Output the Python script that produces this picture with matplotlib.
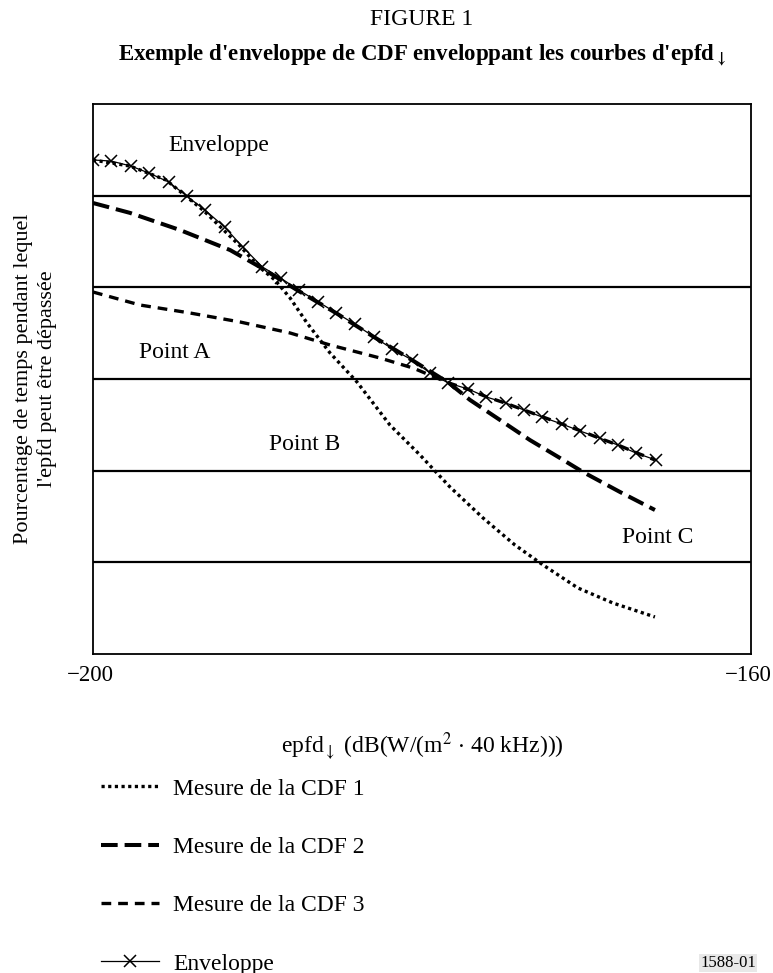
import matplotlib
matplotlib.use("Agg")
import matplotlib.pyplot as plt
from matplotlib.transforms import ScaledTranslation

plt.rcParams['font.family'] = ['Liberation Serif', 'DejaVu Serif']
plt.rcParams['mathtext.fontset'] = 'stix'
plt.rcParams['lines.scale_dashes'] = False

# ---- data (x in dB(W/(m2*40kHz)), y in arbitrary percentage grid units) ----
cdf1_x = [-200.0, -197.75, -195.56, -193.25, -191.06, -189.97, -188.94, -188.02,
          -186.99, -185.59, -183.95, -181.95, -180.12, -178.30, -176.29, -174.35,
          -172.64, -170.52, -168.39, -165.84]
cdf1_y = [5.389, 5.323, 5.171, 4.833, 4.451, 4.233, 4.080, 3.884,
          3.611, 3.284, 2.967, 2.498, 2.171, 1.822, 1.484, 1.189,
          0.971, 0.720, 0.556, 0.404]

cdf2_x = [-200.0, -197.75, -194.71, -191.67, -189.85, -187.60, -185.23, -182.92,
          -180.61, -178.36, -177.08, -175.26, -173.44, -171.61, -170.21, -167.96,
          -165.84]
cdf2_y = [4.920, 4.812, 4.625, 4.407, 4.222, 3.971, 3.720, 3.458,
          3.207, 2.956, 2.771, 2.553, 2.334, 2.138, 1.985, 1.767,
          1.571]

cdf3_x = [-200.0, -197.14, -194.10, -191.06, -188.02, -185.59, -182.55, -180.55,
          -178.36, -177.26, -176.05, -174.95, -173.80, -172.64, -171.49, -170.33,
          -169.24, -168.09, -166.93, -165.84]
cdf3_y = [3.949, 3.807, 3.720, 3.622, 3.502, 3.371, 3.229, 3.120,
          2.956, 2.891, 2.804, 2.738, 2.662, 2.585, 2.509, 2.433,
          2.356, 2.280, 2.193, 2.117]

env_x = [-200.0, -198.9, -197.7, -196.6, -195.4, -194.3, -193.2, -192.0, -190.9,
         -189.7, -188.6, -187.5, -186.3, -185.2, -184.1, -182.9, -181.8, -180.6,
         -179.5, -178.4, -177.2, -176.1, -174.9, -173.8, -172.7, -171.5, -170.4,
         -169.2, -168.1, -167.0, -165.8]
env_y = [5.389, 5.378, 5.323, 5.247, 5.149, 4.996, 4.843, 4.658, 4.440,
         4.222, 4.102, 3.971, 3.840, 3.720, 3.600, 3.458, 3.327, 3.207,
         3.065, 2.956, 2.891, 2.804, 2.738, 2.662, 2.585, 2.509, 2.433,
         2.356, 2.280, 2.193, 2.117]

grid_levels = [1, 2, 3, 4, 5]
x_ticks = [-200, -160]
x_tick_labels = ['\u2212200', '\u2212160']

labels = ['Mesure de la CDF 1', 'Mesure de la CDF 2', 'Mesure de la CDF 3', 'Enveloppe']

# ---- figure ----
W, H = 773, 973
FS = 17
fig = plt.figure(figsize=(W / 100, H / 100), dpi=100)
ax = fig.add_axes([93 / W, 1 - 654 / H, (751 - 93) / W, (654 - 104) / H])
ax.set_xlim(-200, -160)
ax.set_ylim(0, 6)

for g in grid_levels:
    ax.axhline(g, color='black', lw=1.6, zorder=1)

l1, = ax.plot(cdf1_x, cdf1_y, color='black', lw=2.4, dashes=(2.3, 2.5),
              dash_capstyle='butt', zorder=2)
l2, = ax.plot(cdf2_x, cdf2_y, color='black', lw=2.9, dashes=(12, 5),
              dash_capstyle='butt', zorder=2)
l3, = ax.plot(cdf3_x, cdf3_y, color='black', lw=2.4, dashes=(7, 5),
              dash_capstyle='butt', zorder=2)
l4, = ax.plot(env_x, env_y, color='black', lw=0.9, marker='x', ms=9, mew=1.1,
              zorder=3)

for s in ax.spines.values():
    s.set_linewidth(1.3)
ax.set_yticks([])
ax.set_xticks(x_ticks)
ax.set_xticklabels(x_tick_labels, fontsize=16.5)
ax.tick_params(axis='x', length=0, pad=8)
for lbl in ax.get_xticklabels():
    lbl.set_transform(lbl.get_transform() + ScaledTranslation(-0.03, 0, fig.dpi_scale_trans))

ax.set_xlabel(r"epfd$_{\downarrow}$ (dB(W/(m$^{2}$ $\cdot$ 40 kHz)))", fontsize=FS, labelpad=32)
ax.set_ylabel("Pourcentage de temps pendant lequel\nl'epfd peut être dépassée",
              fontsize=16, labelpad=26, linespacing=1.3)

# in-plot labels
ax.text(-195.44, 5.55, 'Enveloppe', fontsize=FS, va='center', ha='left')
ax.text(-197.2, 3.29, 'Point A', fontsize=FS, va='center', ha='left')
ax.text(-189.3, 2.29, 'Point B', fontsize=FS, va='center', ha='left')
ax.text(-167.84, 1.27, 'Point C', fontsize=FS, va='center', ha='left')

fig.text(422 / W, 1 - 25 / H, 'FIGURE 1', fontsize=FS, ha='center', va='baseline')
fig.text(422 / W, 1 - 60 / H,
         r"Exemple d'enveloppe de CDF enveloppant les courbes d'epfd$_{\mathbf{\downarrow}}$",
         fontsize=16.5, fontweight='bold', ha='center', va='baseline')

fig.legend([l1, l2, l3, l4], labels, loc='upper left',
           bbox_to_anchor=(101 / W, 1 - 778 / H), frameon=False, fontsize=FS,
           handlelength=2.45, handletextpad=0.62, labelspacing=1.56, numpoints=1,
           borderaxespad=0, borderpad=0)

fig.text(728 / W, 1 - 963 / H, '1588-01', fontsize=12, ha='center', va='center',
         bbox=dict(facecolor='#e8e8e8', edgecolor='none', pad=1))

fig.savefig('out.png', dpi=100)
